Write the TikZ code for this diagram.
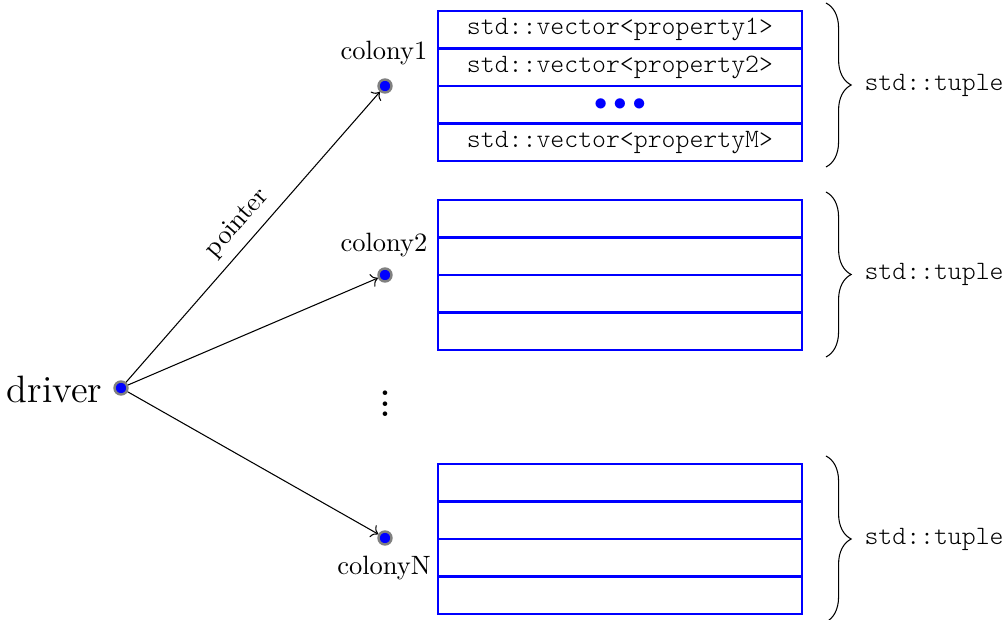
\documentclass[tikz,border=0pt]{standalone}
\usetikzlibrary{decorations.pathreplacing,arrows.meta}
\begin{document}
\begin{tikzpicture}[x=0.3774pt,y=-0.3774pt,
  ttl/.style={font=\ttfamily\fontseries{l}\selectfont},
  rowbox/.style={draw=blue,thick,minimum width=137.4pt,minimum height=14.15pt,inner sep=0pt,ttl},
  dotnode/.style={circle,fill=blue,draw=gray,line width=0.9pt,minimum size=4.9pt,inner sep=0pt},
  lbl/.style={inner sep=0pt},
  bracestyle/.style={decorate,decoration={brace,amplitude=9.5pt}},
  conn/.style={->}]
\useasboundingbox (0,0) rectangle (1005,620);
% boxes
\node[rowbox] (a1) at (620,29.75) {std::vector<property1>};
\node[rowbox] (a2) at (620,67.25) {std::vector<property2>};
\node[rowbox] (a3) at (620,104.75) {\color{blue}${\bullet}\mkern4mu{\bullet}\mkern4mu{\bullet}$};
\node[rowbox] (a4) at (620,142.25) {std::vector<propertyM>};
\node[rowbox] (b1) at (620,218.75) {};
\node[rowbox] (b2) at (620,256.25) {};
\node[rowbox] (b3) at (620,293.75) {};
\node[rowbox] (b4) at (620,331.25) {};
\node[rowbox] (n1) at (620,482.75) {};
\node[rowbox] (n2) at (620,520.25) {};
\node[rowbox] (n3) at (620,557.75) {};
\node[rowbox] (n4) at (620,595.25) {};
% braces
\coordinate (br1t) at (826,3);   \coordinate (br1b) at (826,167);
\coordinate (br2t) at (826,192); \coordinate (br2b) at (826,357);
\coordinate (br3t) at (826,456); \coordinate (br3b) at (826,622);
\draw[bracestyle] (br1t) -- (br1b);
\draw[bracestyle] (br2t) -- (br2b);
\draw[bracestyle] (br3t) -- (br3b);
\node[lbl,anchor=west,ttl] (t1) at (864,85) {std::tuple};
\node[lbl,anchor=west,ttl] (t2) at (864,274.5) {std::tuple};
\node[lbl,anchor=west,ttl] (t3) at (864,539) {std::tuple};
% dots
\node[dotnode] (drv) at (121,388) {};
\node[dotnode] (c1) at (385,86) {};
\node[dotnode] (c2) at (385,275) {};
\node[dotnode] (cN) at (385,538) {};
\node[lbl,anchor=east,font=\Large] (drvl) at (103,389) {driver};
\node[lbl] (c1l) at (384,53) {colony1};
\node[lbl] (c2l) at (384,245) {colony2};
\node[lbl] (cNl) at (384,568) {colonyN};
\node[lbl,font=\large\bfseries] (vd) at (385,396) {\vdots};
% connectors
\draw[conn] (drv) -- node[sloped,above] {pointer} (c1);
\draw[conn] (drv) -- (c2);
\draw[conn] (drv) -- (cN);
\end{tikzpicture}
\end{document}
